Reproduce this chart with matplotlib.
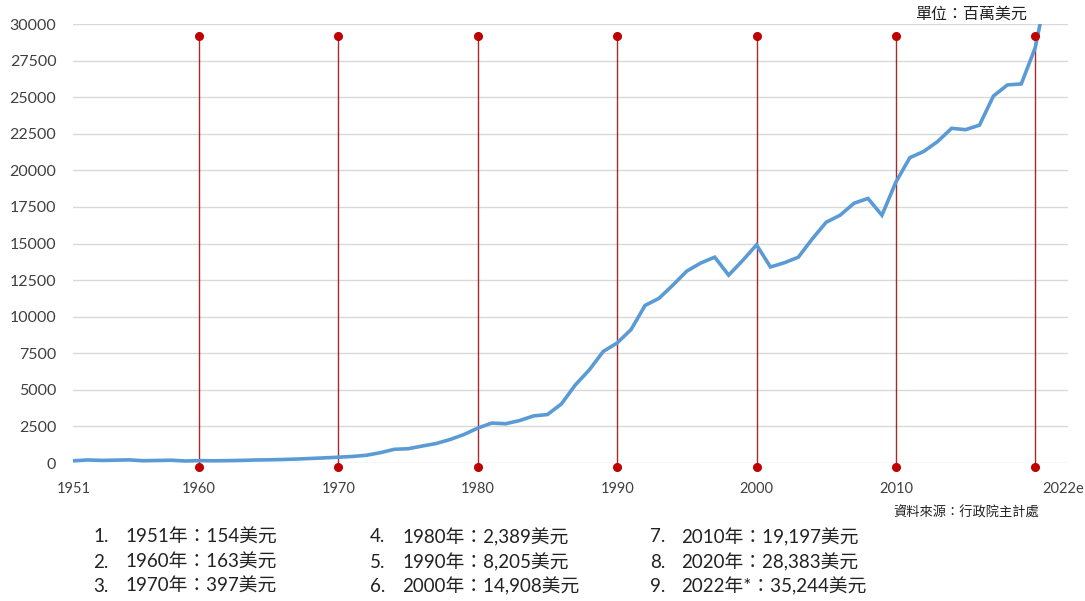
"""
Taiwan per capita GDP 1951-2022e, line chart with decade markers
"""
import matplotlib
matplotlib.use("Agg")
import matplotlib.pyplot as plt

# =========================================================
# DATA
# =========================================================
years = list(range(1951, 2023))
gdp_per_capita = [
    154, 208, 180, 196, 214, 156, 174, 192, 138, 163,
    151, 162, 179, 205, 218, 240, 271, 310, 352, 397,
    448, 529, 705, 936, 976, 1158, 1329, 1604, 1946, 2389,
    2730, 2685, 2902, 3219, 3314, 4041, 5340, 6364, 7626, 8205,
    9124, 10768, 11255, 12160, 13119, 13668, 14068, 12840, 13836, 14908,
    13397, 13686, 14066, 15317, 16456, 16934, 17757, 18081, 16933, 19197,
    20866, 21295, 21973, 22874, 22780, 23091, 25080, 25838, 25908, 28383,
    33004, 35244,
]
marker_years = [1960, 1970, 1980, 1990, 2000, 2010, 2020]
marker_top = 29150
marker_bottom = -300

tick_years = [1951, 1960, 1970, 1980, 1990, 2000, 2010, 2022]
tick_labels = ["1951", "1960", "1970", "1980", "1990", "2000", "2010", "2022e"]
y_ticks = list(range(0, 30001, 2500))

notes = [
    "1951年：154美元", "1960年：163美元", "1970年：397美元",
    "1980年：2,389美元", "1990年：8,205美元", "2000年：14,908美元",
    "2010年：19,197美元", "2020年：28,383美元", "2022年*：35,244美元",
]

# =========================================================
# STYLE
# =========================================================
FONTS = ["Lato", "Noto Sans CJK TC", "DejaVu Sans"]
CJK = ["Noto Sans CJK TC", "DejaVu Sans"]
plt.rcParams["font.family"] = FONTS
LINE_BLUE = "#5B9BD5"
RED_LINE = "#A52A2A"
RED_DOT = "#C00000"
TEXT = "#404040"

fig = plt.figure(figsize=(10.85, 6.01), dpi=100)
ax = fig.add_axes([0.0673, 0.2296, 0.917, 0.7304])

# decade markers
for yr in marker_years:
    ax.plot([yr, yr], [marker_bottom, marker_top], color=RED_LINE, lw=1.0,
            zorder=2, clip_on=False)
    ax.plot([yr, yr], [marker_bottom, marker_top], ls="none", marker="o",
            ms=5.5, color=RED_DOT, zorder=4, clip_on=False)

# main line
ax.plot(years, gdp_per_capita, color=LINE_BLUE, lw=2.6, zorder=3,
        solid_joinstyle="miter")

ax.set_xlim(1950.95, 2022.35)
ax.set_ylim(0, 30000)
ax.set_yticks(y_ticks)
ax.set_yticklabels([str(v) for v in y_ticks], fontsize=11.5, color=TEXT)
ax.set_xticks(tick_years)
ax.set_xticklabels(tick_labels, fontsize=10.5, color=TEXT)
ax.tick_params(axis="both", length=0)
ax.tick_params(axis="x", pad=14)
ax.tick_params(axis="y", pad=12)
ax.grid(axis="y", color="#D9D9D9", lw=1.0)
ax.set_axisbelow(True)
for s in ax.spines.values():
    s.set_visible(False)

# =========================================================
# TEXT
# =========================================================
fig.text(0.8435, 0.976, "單位：百萬美元", fontsize=11.5, family=CJK,
         color="#222222", ha="left", va="center")
fig.text(0.823, 0.146, "資料來源：行政院主計處", fontsize=9.5, family=CJK,
         color="#222222", ha="left", va="center")

col_num_x = [93, 370, 650]
col_txt_x = [125, 402, 681]
row_y = [537, 562, 586]
for i, note in enumerate(notes):
    c, r = divmod(i, 3)
    yy = 1 - row_y[r] / 601
    fig.text(col_num_x[c] / 1085, yy, f"{i + 1}.", fontsize=13.5,
             color="#222222", ha="left", va="center")
    fig.text(col_txt_x[c] / 1085, yy, note, fontsize=13.5,
             color="#222222", ha="left", va="center")

plt.savefig("out.png", dpi=100)
